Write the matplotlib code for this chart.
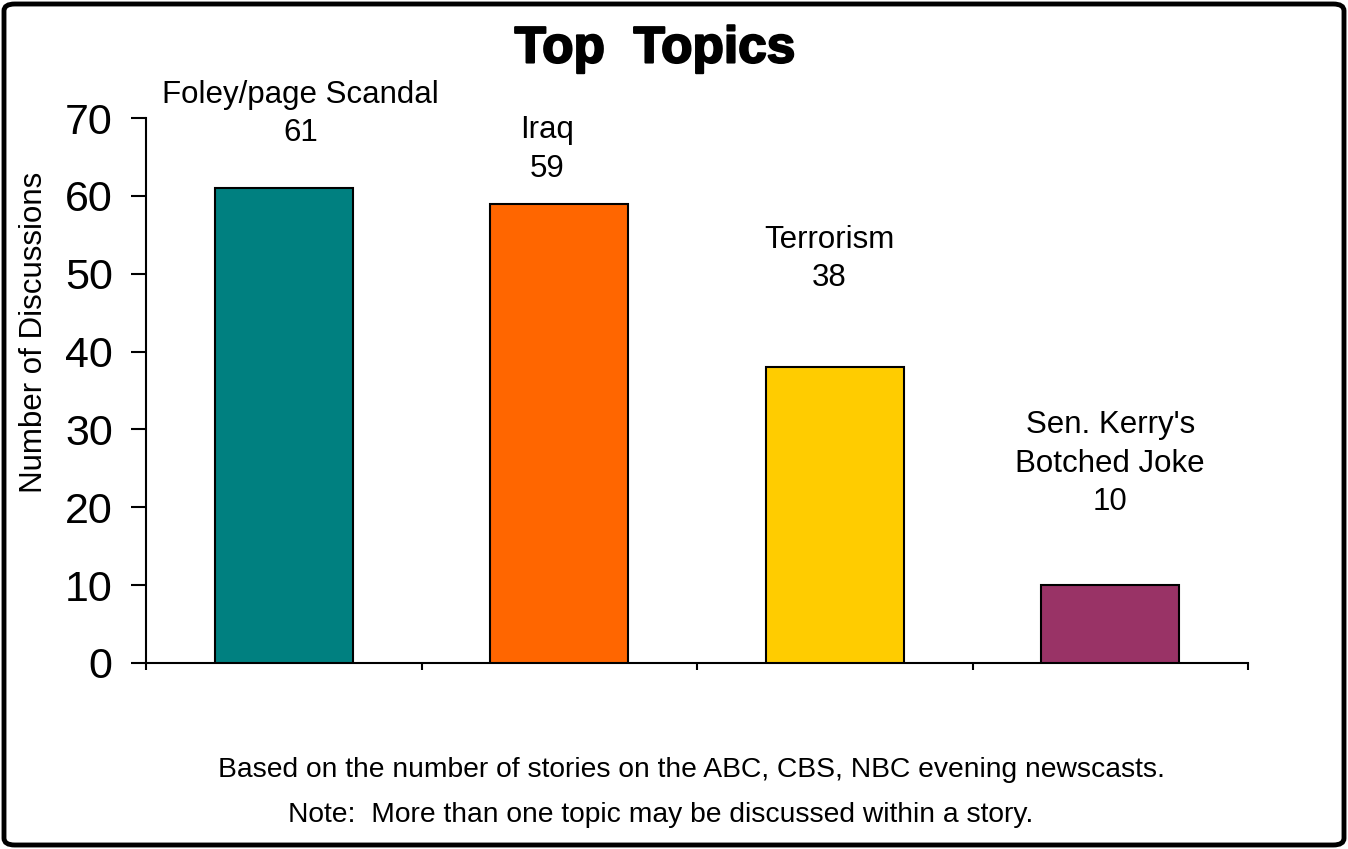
import matplotlib.pyplot as plt
import matplotlib.patheffects as pe
from matplotlib.patches import FancyBboxPatch
import numpy as np

plt.rcParams['font.family'] = ['Liberation Sans', 'DejaVu Sans']

# topics and story counts
topics = ['Foley/page Scandal', 'Iraq', 'Terrorism', "Sen. Kerry's\nBotched Joke"]
counts = [61, 59, 38, 10]
colors = ['#008080', '#FF6600', '#FFCC00', '#993366']
yticks = [0, 10, 20, 30, 40, 50, 60, 70]

# where each label block sits, relative to its bar (x in bar units, y in data units)
label_dx = [0.06, -0.045, -0.02, 0.0]
label_dy = [9.5, 7.0, 13.9, 15.6]

fig = plt.figure(figsize=(13.48, 8.49), dpi=100)
ax = fig.add_axes([146 / 1348, 1 - 663 / 849, 1102 / 1348, 545 / 849])

x = np.arange(len(topics))
ax.bar(x, counts, width=0.5, color=colors, edgecolor='black', linewidth=1.5, zorder=3)

for xi, (name, n, dx, dy) in enumerate(zip(topics, counts, label_dx, label_dy)):
    ax.text(xi + dx, n + dy, f'{name}\n{n}', ha='center', va='center',
            fontsize=22.5, linespacing=1.38)

ax.set_xlim(-0.5, len(topics) - 0.5)
ax.set_ylim(0, 70)
ax.set_yticks(yticks)
ax.set_xticks(np.arange(len(topics) + 1) - 0.5)
ax.set_xticklabels([])
ax.tick_params(axis='y', labelsize=31, length=11, width=1.5, pad=13, direction='out')
ax.tick_params(axis='x', length=5, width=1.5, direction='out')
for side in ('top', 'right'):
    ax.spines[side].set_visible(False)
for side in ('left', 'bottom'):
    ax.spines[side].set_linewidth(1.5)

fig.text(34 / 1348, 1 - 332 / 849, 'Number of Discussions', rotation=90,
         ha='center', va='center', fontsize=22.5)

fig.text(655 / 1348, 1 - 49 / 849, 'Top  Topics', ha='center', va='center',
         fontsize=37, fontweight='bold',
         path_effects=[pe.withStroke(linewidth=1.5, foreground='black')])

fig.text(691 / 1348, 1 - 770 / 849,
         'Based on the number of stories on the ABC, CBS, NBC evening newscasts.',
         ha='center', va='center', fontsize=20.3)
fig.text(661 / 1348, 1 - 815 / 849,
         'Note:  More than one topic may be discussed within a story.',
         ha='center', va='center', fontsize=20.3)

# rounded frame around the whole chart
frame = FancyBboxPatch((4 / 1348, 4 / 849), 1340 / 1348, 841 / 849,
                       boxstyle='round,pad=0,rounding_size=0.008',
                       transform=fig.transFigure, facecolor='none',
                       edgecolor='black', linewidth=3.5)
fig.patches.append(frame)

fig.savefig('out.png', dpi=100)
